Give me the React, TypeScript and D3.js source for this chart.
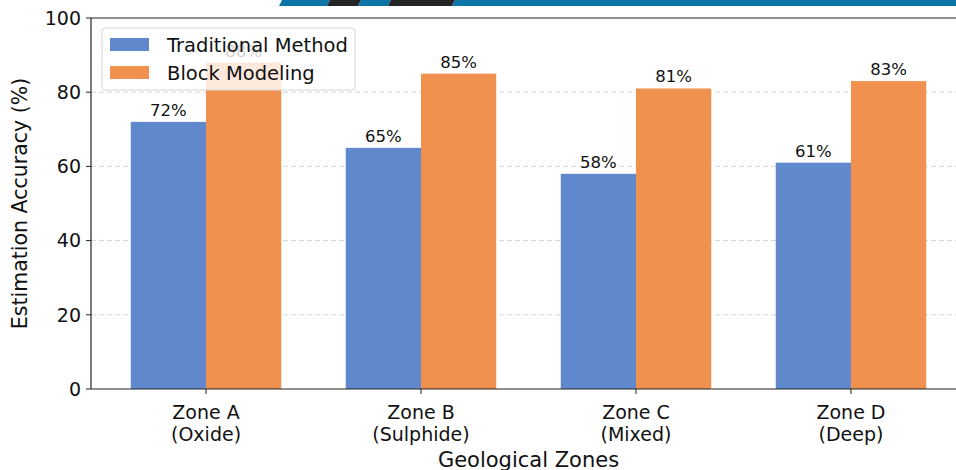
import { useRef, useEffect } from 'react';
import * as d3 from 'd3';

const zones = ['Zone A\n(Oxide)', 'Zone B\n(Sulphide)', 'Zone C\n(Mixed)', 'Zone D\n(Deep)'];
const traditional = [72, 65, 58, 61];
const blockModeling = [88, 85, 81, 83];
const seriesNames = ['Traditional Method', 'Block Modeling'];
const colors = ['#6088cc', '#f09150'];
const yTicks = [0, 20, 40, 60, 80, 100];

const W = 956;
const H = 470;

export default function App() {
  const ref = useRef<SVGSVGElement | null>(null);

  useEffect(() => {
    const svg = d3.select(ref.current);
    svg.selectAll('*').remove();

    const left = 91;
    const right = 966;
    const top = 18;
    const bottom = 389;
    const font = 'DejaVu Sans, sans-serif';

    const x = d3.scaleLinear().domain([-0.535, 3.535]).range([left, right]);
    const y = d3.scaleLinear().domain([0, 100]).range([bottom, top]);
    const bw = 0.35;

    // top banner stripes
    const banner = svg.append('g');
    const stripes: [number, number, string][] = [
      [279, 330, '#0a75a6'],
      [327, 361, '#252525'],
      [358, 391, '#0a75a6'],
      [388, 455, '#252525'],
      [452, 960, '#0a75a6'],
    ];
    stripes.forEach(([a, b, c]) => {
      banner
        .append('path')
        .attr('d', `M${a + 3},0 L${b},0 L${b - 3},6 L${a},6 Z`)
        .attr('fill', c);
    });

    const g = svg.append('g');

    // grid
    g.selectAll('.grid')
      .data(yTicks.filter(t => t > 0 && t < 100))
      .join('line')
      .attr('x1', left)
      .attr('x2', right)
      .attr('y1', d => y(d))
      .attr('y2', d => y(d))
      .attr('stroke', '#d0d0d0')
      .attr('stroke-width', 0.9)
      .attr('stroke-dasharray', '5,3');

    // bars
    const sets = [traditional, blockModeling];
    sets.forEach((vals, si) => {
      const off = si === 0 ? -bw : 0;
      g.append('g')
        .selectAll('rect')
        .data(vals)
        .join('rect')
        .attr('x', (_, i) => x(i + off))
        .attr('width', x(bw) - x(0))
        .attr('y', d => y(d))
        .attr('height', d => y(0) - y(d))
        .attr('fill', colors[si]);

      g.append('g')
        .selectAll('text')
        .data(vals)
        .join('text')
        .attr('x', (_, i) => x(i + off + bw / 2))
        .attr('y', d => y(d) - 6)
        .attr('text-anchor', 'middle')
        .attr('font-family', font)
        .attr('font-size', 16.5)
        .attr('fill', '#111')
        .text(d => `${d}%`);
    });

    // spines
    const spine = (x1: number, y1: number, x2: number, y2: number) =>
      g.append('line').attr('x1', x1).attr('y1', y1).attr('x2', x2).attr('y2', y2).attr('stroke', '#222').attr('stroke-width', 1.2);
    spine(left, top, left, bottom);
    spine(left, bottom, right, bottom);
    spine(left, top, right, top);
    spine(right, top, right, bottom);

    // y axis ticks
    yTicks.forEach(t => {
      g.append('line').attr('x1', left - 5).attr('x2', left).attr('y1', y(t)).attr('y2', y(t)).attr('stroke', '#222').attr('stroke-width', 1);
      g.append('text')
        .attr('x', left - 10)
        .attr('y', y(t))
        .attr('dy', '0.36em')
        .attr('text-anchor', 'end')
        .attr('font-family', font)
        .attr('font-size', 19)
        .attr('fill', '#111')
        .text(t);
    });

    // x axis ticks
    zones.forEach((z, i) => {
      g.append('line').attr('x1', x(i)).attr('x2', x(i)).attr('y1', bottom).attr('y2', bottom + 5).attr('stroke', '#222').attr('stroke-width', 1);
      const t = g.append('text')
        .attr('text-anchor', 'middle')
        .attr('font-family', font)
        .attr('font-size', 19)
        .attr('fill', '#111');
      z.split('\n').forEach((l, li) => {
        t.append('tspan').attr('x', x(i)).attr('y', bottom + 30 + li * 22).text(l);
      });
    });

    // axis labels
    g.append('text')
      .attr('x', (left + right) / 2)
      .attr('y', 467)
      .attr('text-anchor', 'middle')
      .attr('font-family', font)
      .attr('font-size', 21)
      .attr('fill', '#111')
      .text('Geological Zones');

    g.append('text')
      .attr('transform', `translate(27,${(top + bottom) / 2}) rotate(-90)`)
      .attr('text-anchor', 'middle')
      .attr('font-family', font)
      .attr('font-size', 20.5)
      .attr('fill', '#111')
      .text('Estimation Accuracy (%)');

    // legend
    const lg = svg.append('g').attr('transform', 'translate(102,28)');
    lg.append('rect')
      .attr('width', 253)
      .attr('height', 62)
      .attr('rx', 3)
      .attr('fill', 'white')
      .attr('fill-opacity', 0.8)
      .attr('stroke', '#d6d6d6')
      .attr('stroke-width', 1);
    seriesNames.forEach((s, i) => {
      lg.append('rect')
        .attr('x', 8)
        .attr('y', 10 + i * 28)
        .attr('width', 39)
        .attr('height', 13)
        .attr('fill', colors[i]);
      lg.append('text')
        .attr('x', 65)
        .attr('y', 24 + i * 28)
        .attr('font-family', font)
        .attr('font-size', 19.5)
        .attr('fill', '#111')
        .text(s);
    });
  }, []);

  return <svg ref={ref} width={W} height={H} style={{ position: 'absolute', left: 0, top: 0 }}></svg>;
}
